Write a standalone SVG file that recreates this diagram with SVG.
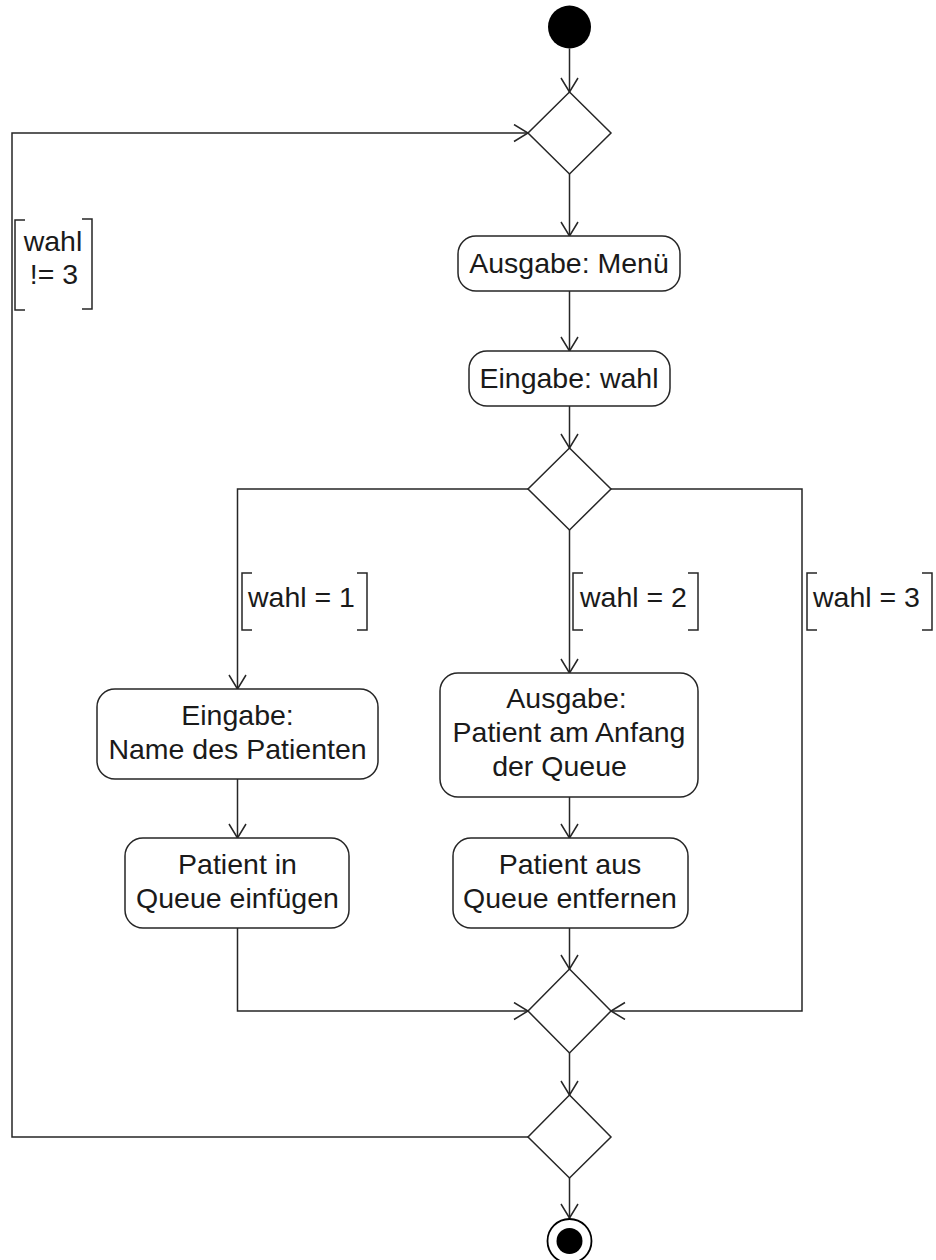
<svg xmlns="http://www.w3.org/2000/svg" width="936" height="1260" viewBox="0 0 936 1260">
<defs>
<marker id="arr" markerUnits="userSpaceOnUse" markerWidth="20" markerHeight="20" viewBox="0 0 20 20" refX="15" refY="9" orient="auto">
<path d="M1,0.5 L15,9 L1,17.5" fill="none" stroke="#262626" stroke-width="1.5"/>
</marker>
<style>
.n{fill:#fff;stroke:#262626;stroke-width:1.5}
.c{fill:none;stroke:#262626;stroke-width:1.5}
.b{fill:none;stroke:#262626;stroke-width:1.5}
.t{font-family:"Liberation Sans",Arial,Helvetica,sans-serif;font-size:28.5px;fill:#1a1a1a}
.m{text-anchor:middle}
</style>
</defs>
<rect width="936" height="1260" fill="#fff"/>

<g id="connectors">
<path class="c" d="M569.5,48.5 V92" marker-end="url(#arr)"/>
<path class="c" d="M569.5,174 V236" marker-end="url(#arr)"/>
<path class="c" d="M569.5,291 V351" marker-end="url(#arr)"/>
<path class="c" d="M569.5,406 V448" marker-end="url(#arr)"/>
<path class="c" d="M528,489 H237.5 V689" marker-end="url(#arr)"/>
<path class="c" d="M569.5,530 V673" marker-end="url(#arr)"/>
<path class="c" d="M611,489 H802 V1011 H611" marker-end="url(#arr)"/>
<path class="c" d="M237.5,779 V838" marker-end="url(#arr)"/>
<path class="c" d="M237.5,928 V1011 H528" marker-end="url(#arr)"/>
<path class="c" d="M569.5,797 V838" marker-end="url(#arr)"/>
<path class="c" d="M569.5,928 V969" marker-end="url(#arr)"/>
<path class="c" d="M569.5,1053 V1095" marker-end="url(#arr)"/>
<path class="c" d="M528,1137 H12 V133 H528" marker-end="url(#arr)"/>
<path class="c" d="M569.5,1178 V1218" marker-end="url(#arr)"/>
</g>

<g id="guard-loop">
<path class="b" d="M25,220 H15 V310 H25 M82,219 H92 V309 H82"/>
<text class="t m" x="53" y="251">wahl</text>
<text class="t m" x="54" y="284">!= 3</text>
</g>
<g id="guard-1">
<path class="b" d="M252,573 H242 V630 H252 M357,573 H367 V630 H357"/>
<text class="t" x="248" y="607">wahl = 1</text>
</g>
<g id="guard-2">
<path class="b" d="M583,573 H573 V630 H583 M688,573 H698 V630 H688"/>
<text class="t" x="580" y="607">wahl = 2</text>
</g>
<g id="guard-3">
<path class="b" d="M817,573 H807 V630 H817 M922,573 H932 V630 H922"/>
<text class="t" x="813" y="607">wahl = 3</text>
</g>

<g id="start"><circle cx="569.5" cy="27" r="21.5" fill="#000"/></g>
<g id="decision-loop"><path class="n" d="M569.5,92 L611,133 L569.5,174 L528,133 Z"/></g>
<g id="ausgabe-menu">
<rect class="n" x="458" y="236" width="222" height="55" rx="18"/>
<text class="t m" x="569" y="273">Ausgabe: Menü</text>
</g>
<g id="eingabe-wahl">
<rect class="n" x="469" y="351" width="201" height="55" rx="18"/>
<text class="t m" x="569" y="388">Eingabe: wahl</text>
</g>
<g id="decision-wahl"><path class="n" d="M569.5,448 L611,489 L569.5,530 L528,489 Z"/></g>
<g id="eingabe-name">
<rect class="n" x="97" y="689" width="281" height="90" rx="18"/>
<text class="t m" x="237.5" y="725">Eingabe:</text>
<text class="t m" x="237.5" y="759">Name des Patienten</text>
</g>
<g id="einfuegen">
<rect class="n" x="125" y="838" width="224" height="90" rx="18"/>
<text class="t m" x="237.5" y="874">Patient in</text>
<text class="t m" x="237.5" y="908">Queue einfügen</text>
</g>
<g id="ausgabe-anfang">
<rect class="n" x="440" y="673" width="258" height="124" rx="18"/>
<text class="t m" x="566.5" y="708">Ausgabe:</text>
<text class="t m" x="569" y="742">Patient am Anfang</text>
<text class="t m" x="559.5" y="776">der Queue</text>
</g>
<g id="entfernen">
<rect class="n" x="453" y="838" width="235" height="90" rx="18"/>
<text class="t m" x="570" y="874">Patient aus</text>
<text class="t m" x="570" y="908">Queue entfernen</text>
</g>
<g id="merge"><path class="n" d="M569.5,969 L611,1011 L569.5,1053 L528,1011 Z"/></g>
<g id="decision-end"><path class="n" d="M569.5,1095 L611,1137 L569.5,1178 L528,1137 Z"/></g>
<g id="final">
<circle cx="569.5" cy="1241" r="22" fill="#fff" stroke="#000" stroke-width="1.8"/>
<circle cx="569.5" cy="1241" r="13" fill="#000"/>
</g>
</svg>
